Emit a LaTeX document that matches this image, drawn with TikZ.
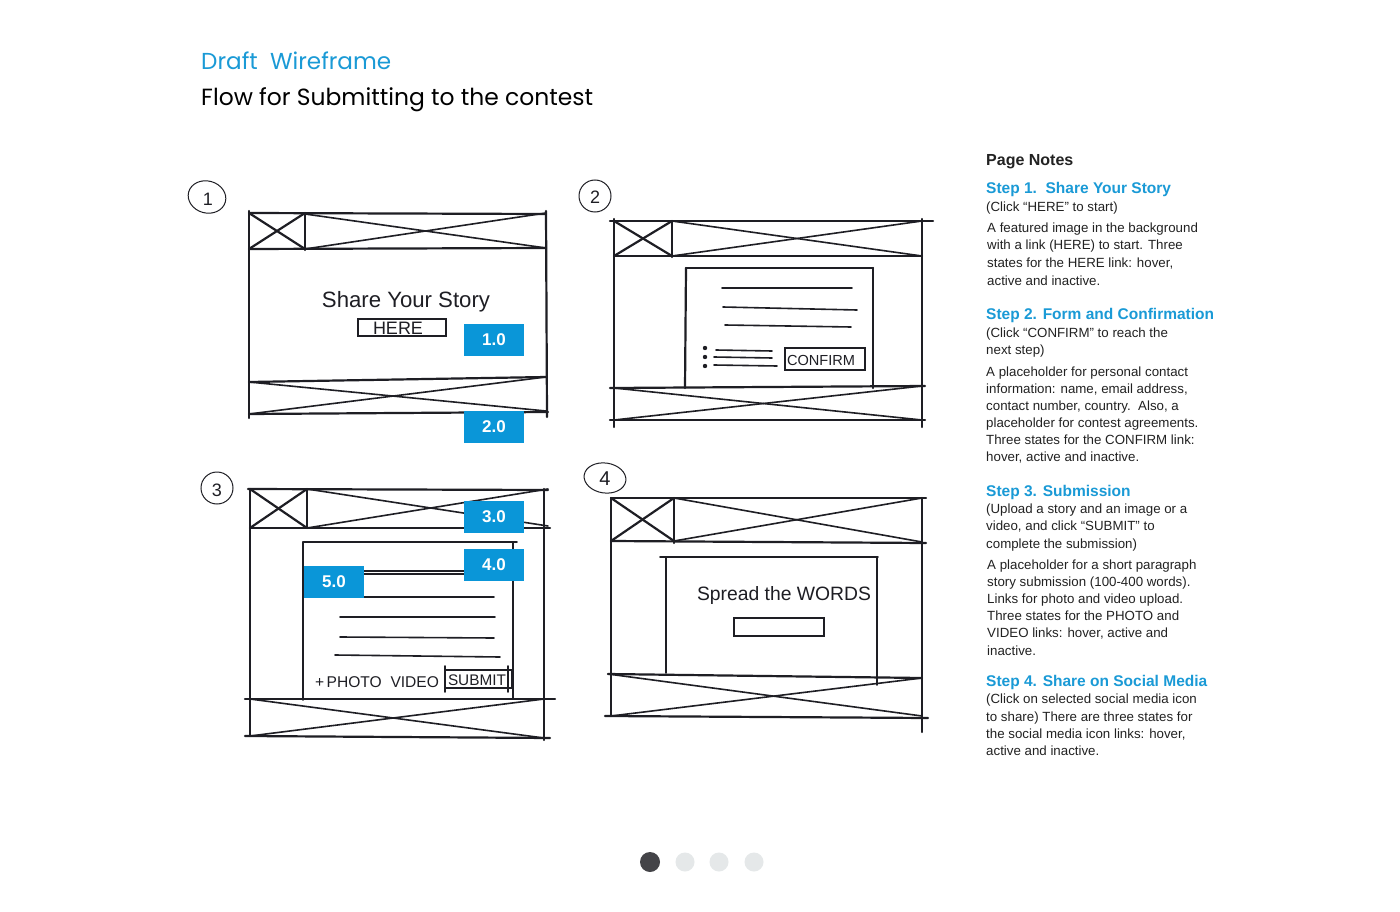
\documentclass[tikz,border=0pt]{standalone}
\usepackage{fontspec}
\setmainfont{Liberation Sans}
\newfontfamily\titlefont{Poppins}
\newfontfamily\handfont{Liberation Sans}
\definecolor{wfblue}{HTML}{1A9AD6}
\definecolor{tagblue}{HTML}{0A96D8}
\definecolor{ink}{HTML}{1E1E24}
\definecolor{notegray}{HTML}{222222}
\definecolor{dotdark}{HTML}{444448}
\definecolor{dotlight}{HTML}{E5E8E9}
\begin{document}
\begin{tikzpicture}[x=1pt,y=-1pt,
  sk/.style={draw=ink,line width=2.2pt,line cap=round},
  skt/.style={draw=ink,line width=1.6pt,line cap=round},
  numcirc/.style={draw=ink,line width=1pt},
  tag/.style={fill=tagblue,text=white,font=\bfseries\fontsize{17}{17}\selectfont,minimum width=60pt,minimum height=32pt,inner sep=0pt},
  note/.style={anchor=base west,inner sep=0pt,text=notegray,font=\fontsize{13.3}{15}\selectfont},
  head/.style={anchor=base west,inner sep=0pt,text=wfblue,font=\bfseries\fontsize{15.5}{17}\selectfont},
  hand/.style={inner sep=0pt,text=ink}]
\useasboundingbox[fill=white] (0,0) rectangle (1400,912);

% ---------- titles ----------
\node[anchor=base west,inner sep=0pt,text=wfblue] (t1) at (201,70) {\resizebox{190pt}{!}{\titlefont Draft\ \ Wireframe}};
\node[anchor=base west,inner sep=0pt,text=black] (t2) at (201,106) {\resizebox{392pt}{!}{\titlefont Flow for Submitting to the contest}};

% ---------- sketch 1 ----------
\draw[numcirc,rotate around={-15:(207,197)}] (207,197) ellipse [x radius=19,y radius=16];
\node[hand,font=\fontsize{18}{18}\selectfont] (n1) at (208,199) {1};
\draw[sk] (249,213) -- (546,214);
\draw[sk] (249,249) -- (546,248);
\draw[sk] (249,211) -- (249,418);
\draw[sk] (546,211) -- (547,417);
\draw[sk] (305,213) -- (305,250);
\draw[sk] (249,213) -- (305,249);
\draw[sk] (249,249) -- (305,213);
\draw[skt] (305,214) -- (546,248);
\draw[skt] (305,249) -- (546,213);
\draw[sk] (249,382) -- (546,377);
\draw[sk] (249,414) -- (548,412);
\draw[skt] (249,382) -- (546,411);
\draw[skt] (249,414) -- (546,377);
\node[hand] (s1) at (406,302) {\resizebox{168pt}{!}{\handfont Share Your Story}};
\draw[skt] (358,319) rectangle (446,336);
\node[hand] (h1) at (398,328) {\resizebox{50pt}{!}{\handfont HERE}};
\node[tag] (g1) at (494,340) {1.0};
\node[tag] (g2) at (494,427) {2.0};

% ---------- sketch 2 ----------
\draw[numcirc] (595,196) circle [radius=16];
\node[hand,font=\fontsize{18}{18}\selectfont] (n2) at (595,197) {2};
\draw[sk] (610,221) -- (933,221);
\draw[sk] (614,256) -- (922,256);
\draw[sk] (614,219) -- (614,427);
\draw[sk] (922,219) -- (922,427);
\draw[sk] (672,221) -- (672,257);
\draw[sk] (614,221) -- (672,256);
\draw[sk] (614,256) -- (672,221);
\draw[skt] (672,221) -- (922,256);
\draw[skt] (672,256) -- (922,221);
\draw[sk] (610,388) -- (925,386);
\draw[sk] (610,420) -- (925,420);
\draw[skt] (614,388) -- (922,420);
\draw[skt] (614,420) -- (922,386);
\draw[sk] (686,268) -- (873,268);
\draw[sk] (686,268) -- (685,388);
\draw[sk] (873,268) -- (873,388);
\draw[skt] (722,288) -- (852,288);
\draw[skt] (723,307) -- (857,310);
\draw[skt] (725,325) -- (851,327);
\fill[ink] (705,348) circle [radius=2.2];
\fill[ink] (705,357) circle [radius=2.2];
\fill[ink] (705,366) circle [radius=2.2];
\draw[skt] (716,350) -- (772,351);
\draw[skt] (714,357) -- (772,358);
\draw[skt] (714,365) -- (777,366);
\draw[skt] (785,348) rectangle (865,370);
\node[hand] (c2) at (821,360) {\resizebox{68pt}{!}{\handfont CONFIRM}};

% ---------- sketch 3 ----------
\draw[numcirc] (217,488) circle [radius=16];
\node[hand,font=\fontsize{18}{18}\selectfont] (n3) at (217,490) {3};
\draw[sk] (248,489) -- (548,490);
\draw[sk] (250,528) -- (550,528);
\draw[sk] (250,489) -- (250,736);
\draw[sk] (544,489) -- (544,740);
\draw[sk] (307,489) -- (307,528);
\draw[sk] (250,489) -- (307,528);
\draw[sk] (250,528) -- (307,489);
\draw[skt] (307,489) -- (548,526);
\draw[skt] (307,528) -- (548,489);
\draw[sk] (245,699) -- (555,699);
\draw[sk] (245,736) -- (550,738);
\draw[skt] (250,699) -- (544,738);
\draw[skt] (250,736) -- (544,699);
\draw[skt] (303,542) -- (517,542);
\draw[skt] (303,542) -- (303,700);
\draw[skt] (513,542) -- (513,699);
\draw[skt] (360,571) -- (470,571);
\draw[skt] (360,574) -- (470,574);
\draw[skt] (340,597) -- (494,597);
\draw[skt] (340,617) -- (495,617);
\draw[skt] (340,637) -- (494,638);
\draw[skt] (335,655) -- (500,657);
\node[hand] (p3) at (377,682) {\resizebox{124pt}{!}{\handfont +\,PHOTO\ \ VIDEO}};
\draw[skt] (445,670) rectangle (512,688);
\draw[skt] (445,666) -- (445,692);
\draw[skt] (508,666) -- (508,692);
\node[hand] (u3) at (477,680) {\resizebox{58pt}{!}{\handfont SUBMIT}};
\node[tag] (g3) at (494,517) {3.0};
\node[tag] (g4) at (494,565) {4.0};
\node[tag] (g5) at (334,582) {5.0};

% ---------- sketch 4 ----------
\draw[numcirc,rotate around={-8:(605,478)}] (605,478) ellipse [x radius=21,y radius=15];
\node[hand,font=\fontsize{20}{20}\selectfont] (n4) at (605,479) {4};
\draw[sk] (611,498) -- (926,498);
\draw[sk] (611,541) -- (926,543);
\draw[sk] (611,498) -- (611,716);
\draw[sk] (922,498) -- (922,732);
\draw[sk] (674,498) -- (674,543);
\draw[sk] (611,498) -- (674,541);
\draw[sk] (611,541) -- (674,498);
\draw[skt] (674,498) -- (922,542);
\draw[skt] (674,541) -- (922,498);
\draw[sk] (608,674) -- (922,678);
\draw[sk] (605,716) -- (928,718);
\draw[skt] (608,674) -- (922,716);
\draw[skt] (611,716) -- (922,678);
\draw[skt] (660,557) -- (878,557);
\draw[skt] (666,557) -- (666,673);
\draw[skt] (877,557) -- (877,685);
\node[hand] (w4) at (784,595) {\resizebox{174pt}{!}{\handfont Spread the WORDS}};
\draw[skt] (734,618) rectangle (824,636);

% ---------- notes ----------
\node[anchor=base west,inner sep=0pt,text=notegray,font=\bfseries\fontsize{16}{18}\selectfont] (pn) at (986,166) {Page Notes};
\node[head] (h1n) at (986,194) {Step 1.\ \ Share Your Story};
\node[note] (a1) at (986,212) {(Click “HERE” to start)};
\node[note] (a2) at (987,233) {A featured image in the background};
\node[note] (a3) at (987,250) {with a link (HERE) to start. Three};
\node[note] (a4) at (987,267) {states for the HERE link: hover,};
\node[note] (a5) at (987,285) {active and inactive.};
\node[head] (h2n) at (986,319) {Step 2. Form and Confirmation};
\node[note] (b1) at (986,337) {(Click “CONFIRM” to reach the};
\node[note] (b2) at (986,354) {next step)};
\node[note] (b3) at (986,376) {A placeholder for personal contact};
\node[note] (b4) at (986,393) {information: name, email address,};
\node[note] (b5) at (986,410) {contact number, country.\ \ Also, a};
\node[note] (b6) at (986,427) {placeholder for contest agreements.};
\node[note] (b7) at (986,444) {Three states for the CONFIRM link:};
\node[note] (b8) at (986,461) {hover, active and inactive.};
\node[head] (h3n) at (986,496) {Step 3. Submission};
\node[note] (c1) at (986,513) {(Upload a story and an image or a};
\node[note] (c2n) at (986,530) {video, and click “SUBMIT” to};
\node[note] (c3) at (986,548) {complete the submission)};
\node[note] (c4) at (987,569) {A placeholder for a short paragraph};
\node[note] (c5) at (987,586) {story submission (100-400 words).};
\node[note] (c6) at (987,603) {Links for photo and video upload.};
\node[note] (c7) at (987,620) {Three states for the PHOTO and};
\node[note] (c8) at (987,637) {VIDEO links: hover, active and};
\node[note] (c9) at (987,655) {inactive.};
\node[head] (h4n) at (986,686) {Step 4. Share on Social Media};
\node[note] (d1) at (986,703) {(Click on selected social media icon};
\node[note] (d2) at (986,721) {to share) There are three states for};
\node[note] (d3) at (986,738) {the social media icon links: hover,};
\node[note] (d4) at (986,755) {active and inactive.};

% ---------- pager dots ----------
\fill[dotdark] (650,862) circle [radius=10];
\fill[dotlight] (685,862) circle [radius=9.5];
\fill[dotlight] (719,862) circle [radius=9.5];
\fill[dotlight] (754,862) circle [radius=9.5];
\end{tikzpicture}
\end{document}
